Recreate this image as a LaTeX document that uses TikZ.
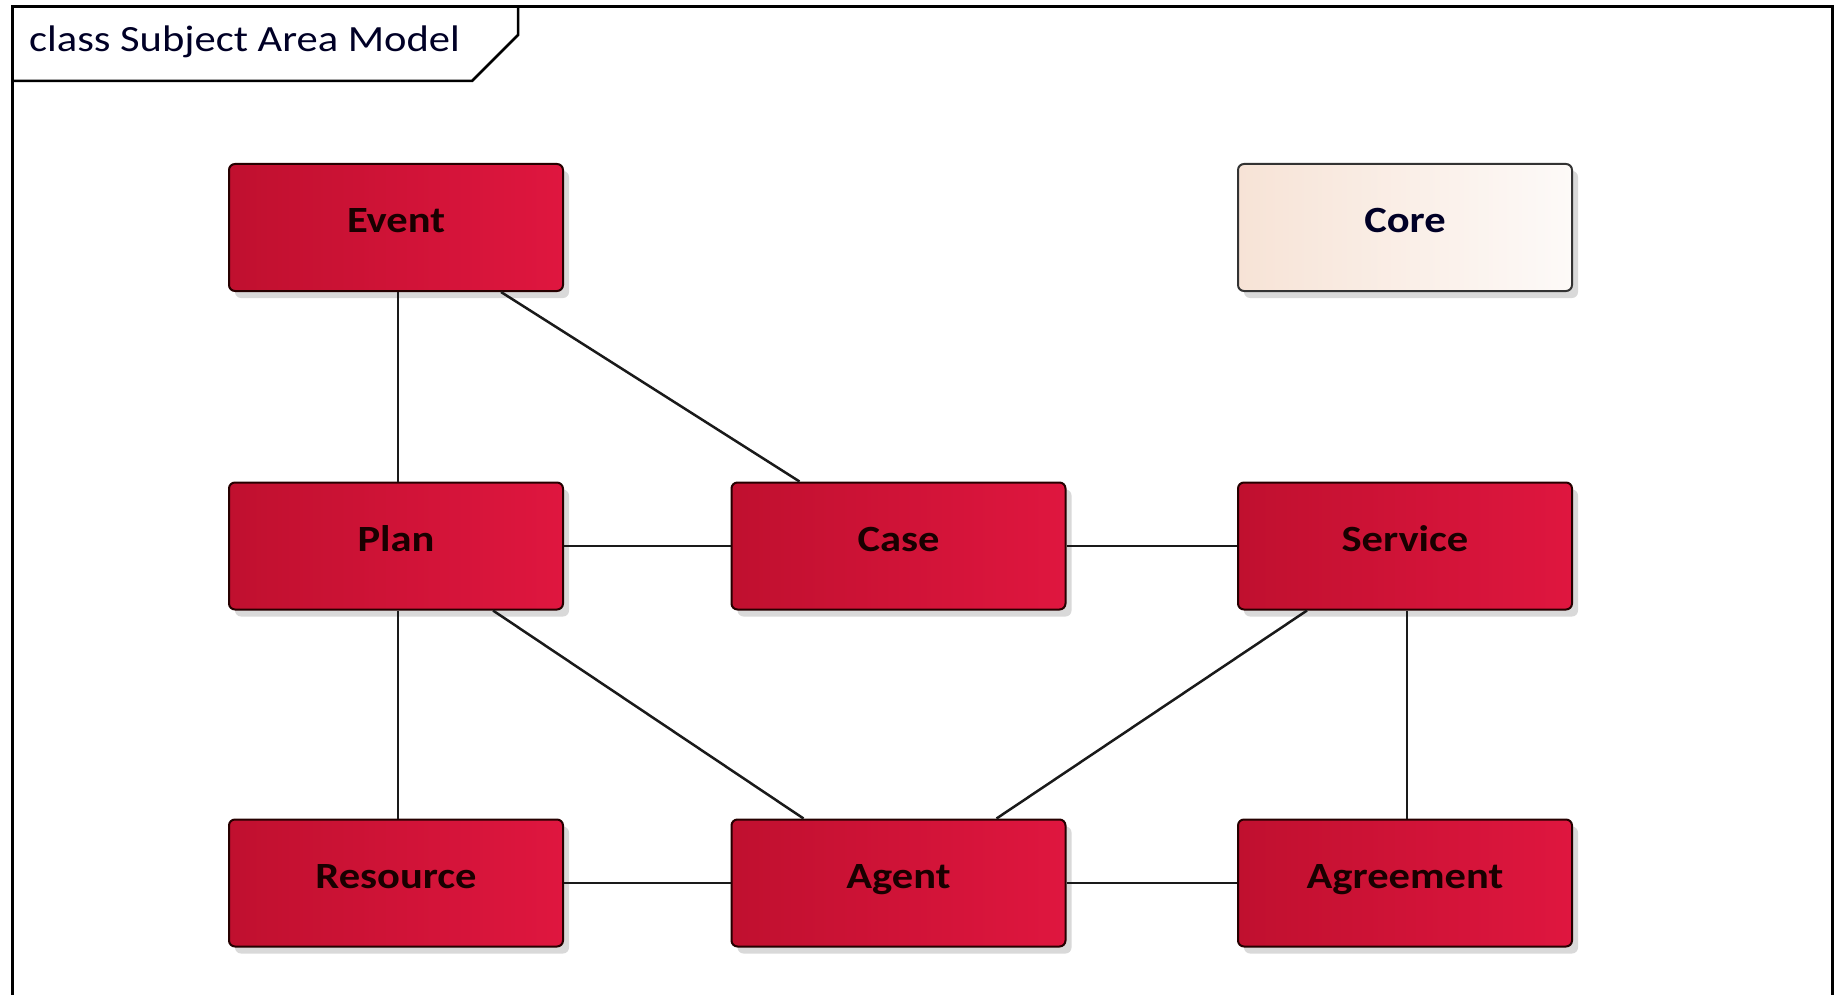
\documentclass[tikz,border=0pt]{standalone}
\usepackage{fontspec}
\setmainfont{Carlito}[FakeStretch=1.15]
\usetikzlibrary{shadows}
\definecolor{redL}{HTML}{C0102F}
\definecolor{redR}{HTML}{DF163F}
\definecolor{coreL}{HTML}{F7E3D6}
\definecolor{coreR}{HTML}{FDFAF8}
\definecolor{inkline}{HTML}{1A1A1A}
\tikzset{
  cls/.style={draw=black!85!red, line width=2pt, rounded corners=6pt,
    minimum width=334pt, minimum height=127pt, inner sep=0pt,
    text height=24pt, text depth=14pt,
    font=\fontsize{37}{40}\selectfont\bfseries, text=black!90!red,
    drop shadow={shadow xshift=6pt, shadow yshift=-7pt, opacity=0.15, fill=black}},
  redcls/.style={cls, left color=redL, right color=redR},
  corecls/.style={cls, draw=black!80, left color=coreL, right color=coreR, text=black!85!blue},
  assoc/.style={draw=inkline, line width=2.5pt},
}
\begin{document}
\begin{tikzpicture}[x=1pt, y=-1pt]
\useasboundingbox (0,0) rectangle (1835,995);
\fill[white] (0,0) rectangle (1835,995);
% diagram frame and name tab
\draw[line width=3pt, black] (12,1000) -- (12,7) -- (1832,7) -- (1832,1000);
\draw[line width=2.5pt, black] (12,81) -- (472,81) -- (518,35) -- (518,7);
\node[anchor=west, font=\fontsize{37}{40}\selectfont, text=black!85!blue, inner sep=0pt] (title) at (29,42) {class Subject Area Model};
% classes
\node[redcls] (event) at (396,227.5) {Event};
\node[corecls] (core) at (1405,227.5) {Core};
\node[redcls] (plan) at (396,546) {Plan};
\node[redcls] (case) at (898.5,546) {Case};
\node[redcls] (service) at (1405,546) {Service};
\node[redcls] (resource) at (396,883) {Resource};
\node[redcls] (agent) at (898.5,883) {Agent};
\node[redcls] (agreement) at (1405,883) {Agreement};
% associations
\draw[assoc] (event.south) ++(2,0) coordinate (e1) -- (e1 |- plan.north);
\draw[assoc] ([xshift=105pt]event.south) -- ([xshift=-99pt]case.north);
\draw[assoc] (plan) -- (case);
\draw[assoc] (case) -- (service);
\draw[assoc] ([xshift=2pt]plan.south) -- ([xshift=2pt]resource.north);
\draw[assoc] ([xshift=97pt]plan.south) -- ([xshift=-95pt]agent.north);
\draw[assoc] ([xshift=-98pt]service.south) -- ([xshift=98pt]agent.north);
\draw[assoc] ([xshift=2pt]service.south) -- ([xshift=2pt]agreement.north);
\draw[assoc] (resource) -- (agent);
\draw[assoc] (agent) -- (agreement);
\end{tikzpicture}
\end{document}
